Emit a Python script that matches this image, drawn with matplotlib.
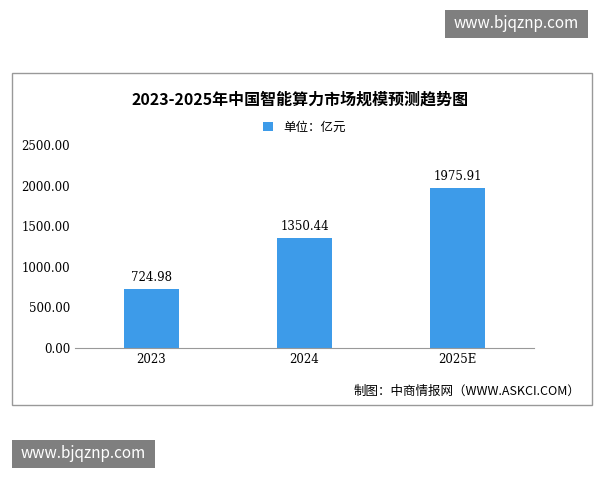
import matplotlib
matplotlib.use("Agg")
import matplotlib.pyplot as plt
from matplotlib.patches import Rectangle

plt.rcParams['font.family'] = ['Noto Sans CJK SC', 'DejaVu Sans']

years = ["2023", "2024", "2025E"]
values = [724.98, 1350.44, 1975.91]
yticks = [0, 500, 1000, 1500, 2000, 2500]

fig = plt.figure(figsize=(6, 4.8), dpi=100)

# outer frame
fig.patches.append(Rectangle((12/600, 1-405/480), 580/600, 332/480, transform=fig.transFigure,
                             fill=False, edgecolor="#999999", linewidth=1))
# watermark boxes
fig.patches.append(Rectangle((445/600, 1-38/480), 143/600, 28/480, transform=fig.transFigure,
                             facecolor="#7f7f7f", edgecolor="none"))
fig.text(516/600, 1-24/480, "www.bjqznp.com", color="white", fontsize=11, ha="center", va="center")
fig.patches.append(Rectangle((12/600, 1-468/480), 143/600, 28/480, transform=fig.transFigure,
                             facecolor="#7f7f7f", edgecolor="none"))
fig.text(83/600, 1-454/480, "www.bjqznp.com", color="white", fontsize=11, ha="center", va="center")

ax = fig.add_axes([75/600, 1-348/480, 459/600, 203/480])
x = range(len(years))
ax.bar(x, values, width=0.36, color="#3d9be9", label="单位：亿元")
for i, v in enumerate(values):
    ax.text(i, v + 60, f"{v:.2f}", ha="center", va="bottom", fontsize=8.5, family="DejaVu Serif")

ax.set_xlim(-0.5, 2.5)
ax.set_ylim(0, 2500)
ax.set_yticks(yticks)
ax.set_yticklabels([f"{t:.2f}" for t in yticks], fontsize=8.5, family="DejaVu Serif")
ax.set_xticks(list(x))
ax.set_xticklabels(years, fontsize=8.5, family="DejaVu Serif")
for s in ["top", "right", "left"]:
    ax.spines[s].set_visible(False)
ax.spines["bottom"].set_color("#999999")
ax.tick_params(length=0)

fig.text(0.5, 1-100/480, "2023-2025年中国智能算力市场规模预测趋势图", ha="center", va="center",
         fontsize=11.5, fontweight="bold")
ax.legend(loc="lower center", bbox_to_anchor=(0.5, 1.0), frameon=False, fontsize=9,
          handlelength=0.8, handleheight=0.8)
fig.text(580/600, 1-391/480, "制图：中商情报网（WWW.ASKCI.COM）", ha="right", va="center", fontsize=9)

fig.savefig("out.png", dpi=100)
